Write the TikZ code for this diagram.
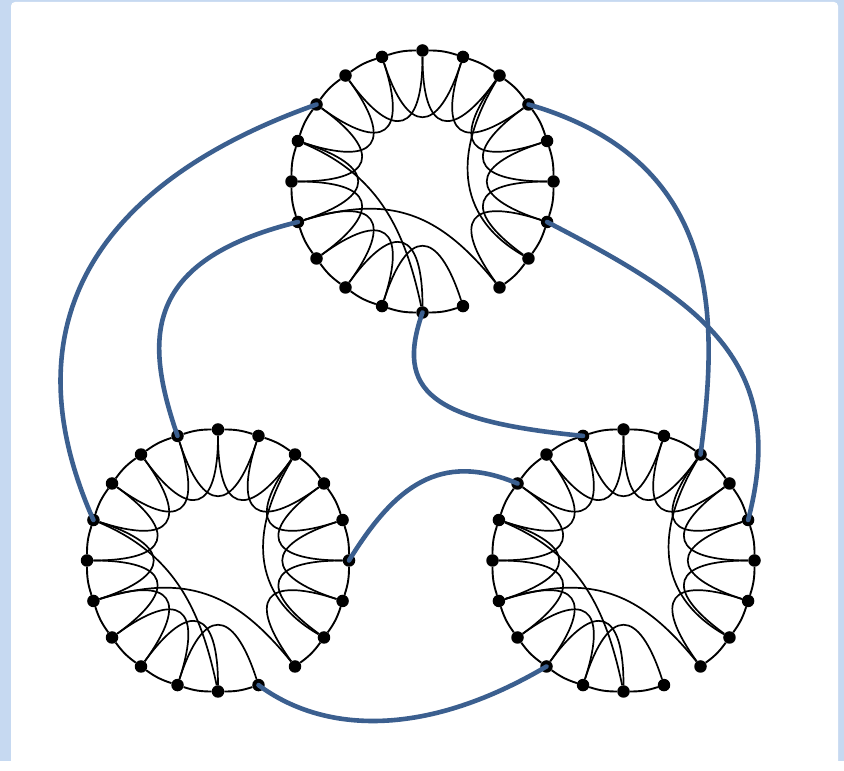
\documentclass[tikz,border=0pt]{standalone}
\pgfdeclarelayer{back}\pgfdeclarelayer{bg}\pgfdeclarelayer{fg}\pgfsetlayers{back,bg,main,fg}
\definecolor{pageblue}{HTML}{C6D9F1}
\definecolor{linkblue}{HTML}{3B5F8F}
\newcommand\mygadget[3]{%
  \foreach \k in {0,...,19}{
    \node[vdot] (#1-\k) at ({#2+131*cos(90-18*\k)},{#3+131*sin(90-18*\k)}) {};
  }
  \begin{pgfonlayer}{bg}
  \foreach \k in {0,...,7}{\pgfmathtruncatemacro\kn{\k+1}
     \draw[rimline] (#1-\k) to[bend left=9] (#1-\kn);}
  \foreach \k in {9,...,18}{\pgfmathtruncatemacro\kn{\k+1}
     \draw[rimline] (#1-\k) to[bend left=9] (#1-\kn);}
  \draw[rimline] (#1-19) to[bend left=9] (#1-0);
  \foreach \k in {0,...,19}{
     \ifnum\k=7\else\ifnum\k=8\else
     \pgfmathtruncatemacro\kk{mod(\k+2,20)}
     \pgfmathsetmacro\ao{90-18*\k+180}
     \pgfmathsetmacro\ai{90-18*\kk+180}
     \draw[petal] (#1-\k) to[out=\ao,in=\ai,distance=76pt] (#1-\kk);
     \fi\fi}
  \draw[petal] (#1-16) to[out=337,in=102,distance=80pt] (#1-10);
  \draw[petal] (#1-14) to[out=17,in=129,distance=90pt] (#1-8);
  \draw[petal] (#1-2) to[out=239,in=150,distance=80pt] (#1-7);
  \end{pgfonlayer}
}
\begin{document}
\begin{tikzpicture}[x=1pt,y=1pt,
  vdot/.style={circle,fill=black,inner sep=0pt,minimum size=12.5pt},
  rimline/.style={line width=1.9pt,black},
  petal/.style={line width=1.7pt,black},
  link/.style={line width=4.6pt,linkblue,line cap=round}]
\begin{pgfonlayer}{back}
\fill[pageblue] (0,0) rectangle (844,761);
\fill[white,rounded corners=4pt] (11,-10) rectangle (838,759);
\end{pgfonlayer}
\useasboundingbox (0,0) rectangle (844,761);
\mygadget{T}{422.5}{579.5}
\mygadget{L}{218}{200.5}
\mygadget{R}{623.5}{200.5}
\begin{pgfonlayer}{fg}
\draw[link] (T-17.center) .. controls (100,580) and (5,440) .. (L-16.center);
\draw[link] (T-14.center) .. controls (140,500) and (145,420) .. (L-19.center);
\draw[link] (T-10.center) .. controls (395,370) and (430,340) .. (R-19.center);
\draw[link] (T-3.center) .. controls (725,600) and (718,440) .. (R-2.center);
\draw[link] (T-6.center) .. controls (700,460) and (790,400) .. (R-4.center);
\draw[link] (L-5.center) .. controls (395,275) and (440,310) .. (R-17.center);
\draw[link] (L-9.center) .. controls (320,30) and (420,20) .. (R-12.center);
\end{pgfonlayer}
\end{tikzpicture}
\end{document}
